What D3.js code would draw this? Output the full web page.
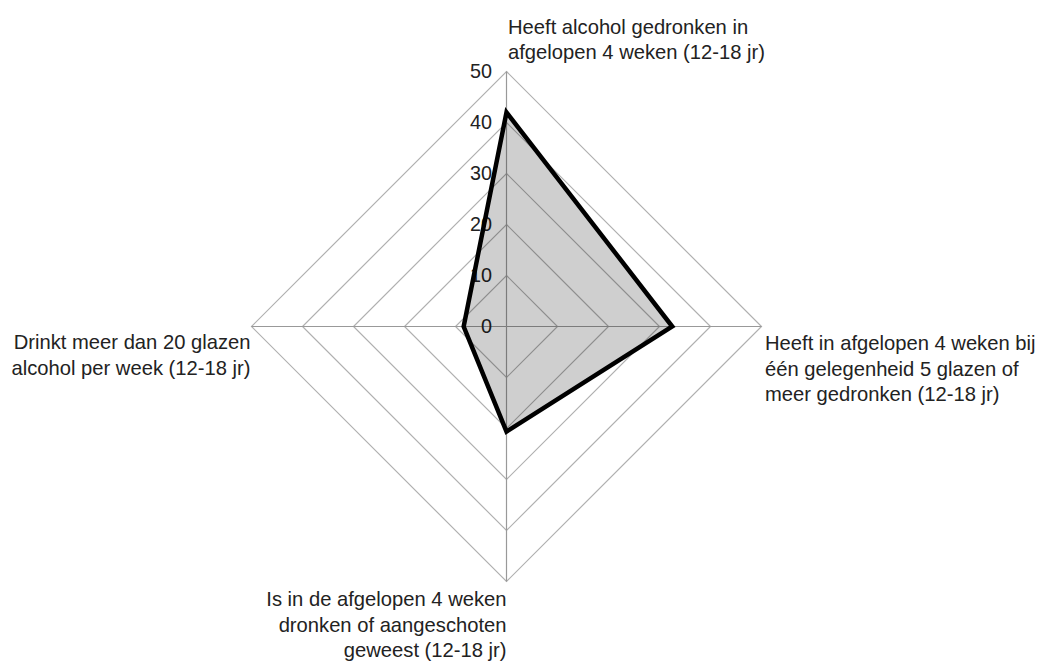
<!DOCTYPE html>
<html>
<head>
<meta charset="utf-8">
<script src="https://cdn.jsdelivr.net/npm/d3@7"></script>
<style>
  html, body { margin: 0; padding: 0; background: #fff; }
  svg { display: block; }
  text { font-family: "Liberation Sans", Arial, sans-serif; fill: #222; }
</style>
</head>
<body>
<svg id="chart" width="1039" height="661"></svg>
<script>
// ---- data ----
const categories = [
  ["Heeft alcohol gedronken in", "afgelopen 4 weken (12-18 jr)"],
  ["Heeft in afgelopen 4 weken bij", "één gelegenheid 5 glazen of", "meer gedronken (12-18 jr)"],
  ["Is in de afgelopen 4 weken", "dronken of aangeschoten", "geweest (12-18 jr)"],
  ["Drinkt meer dan 20 glazen", "alcohol per week (12-18 jr)"]
];
const values = [42, 32.5, 20.6, 8.4];
const tickValues = [0, 10, 20, 30, 40, 50];

// ---- layout ----
const cx = 506.5, cy = 326.5, R = 255;
const svg = d3.select("#chart");
const r = d3.scaleLinear().domain([0, 50]).range([0, R]);
const angle = d3.scaleLinear().domain([0, categories.length]).range([0, 2 * Math.PI]);
const pt = (i, v) => [cx + r(v) * Math.sin(angle(i)), cy - r(v) * Math.cos(angle(i))];

// grid rings
svg.append("g").selectAll("polygon").data(tickValues.filter(t => t > 0)).join("polygon")
  .attr("points", t => categories.map((c, i) => pt(i, t).join(",")).join(" "))
  .attr("fill", "none").attr("stroke", "#b0b0b0").attr("stroke-width", 1.2);

// axes
svg.append("g").selectAll("line").data(categories).join("line")
  .attr("x1", cx).attr("y1", cy)
  .attr("x2", (c, i) => pt(i, 50)[0]).attr("y2", (c, i) => pt(i, 50)[1])
  .attr("stroke", "#999").attr("stroke-width", 1.2);

// tick labels
svg.append("g").selectAll("text").data(tickValues).join("text")
  .attr("x", cx - 14.5).attr("y", t => cy - r(t))
  .attr("dy", "0.35em")
  .attr("text-anchor", "end")
  .attr("font-size", 19.8)
  .text(t => t);

// data polygon
const line = d3.line().curve(d3.curveLinearClosed);
const poly = values.map((v, i) => pt(i, v));
svg.append("path").attr("d", line(poly))
  .attr("fill", "#000").attr("fill-opacity", 0.19).attr("stroke", "none");
svg.append("path").attr("d", line(poly))
  .attr("fill", "none").attr("stroke", "#000").attr("stroke-width", 4.5)
  .attr("stroke-linejoin", "miter");

// category labels
const lh = 25.7;
const labelPos = [
  { x: cx + 1.5, y: cy - R - 38, anchor: "start" },
  { x: cx + R + 3.5, y: cy + 23.5, anchor: "start" },
  { x: cx, y: cy + R + 24.5, anchor: "end" },
  { x: cx - R - 1, y: cy + 22.5, anchor: "end" }
];
categories.forEach((lines, i) => {
  const p = labelPos[i];
  const t = svg.append("text")
    .attr("x", p.x).attr("y", p.y)
    .attr("text-anchor", p.anchor)
    .attr("font-size", 20.2);
  lines.forEach((s, k) => {
    t.append("tspan").attr("x", p.x).attr("y", p.y + k * lh).text(s);
  });
});
</script>
</body>
</html>
